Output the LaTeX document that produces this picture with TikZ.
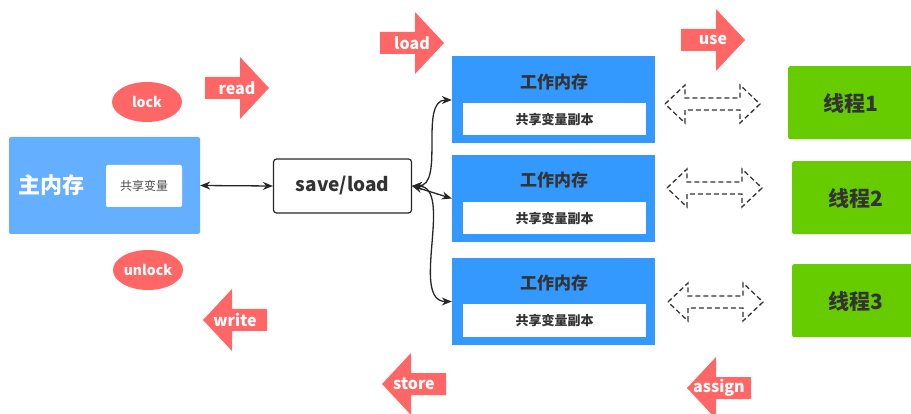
\documentclass[tikz,border=0pt]{standalone}
\usepackage{fontspec}
\setmainfont{Noto Sans CJK SC}
\usetikzlibrary{arrows.meta,shapes.geometric}
\definecolor{redA}{HTML}{FF6666}
\definecolor{mainblue}{HTML}{64AFFF}
\definecolor{wmblue}{HTML}{3399FF}
\definecolor{thgreen}{HTML}{66CC00}
\definecolor{txt}{HTML}{333333}
\newcommand{\fs}[1]{\fontsize{#1}{#1}\selectfont}
% right-pointing red arrow: left x, centre y
\newcommand{\redR}[4]{%
  \fill[redA] (#2,#3-11) -- (#2+35,#3-11) -- (#2+35,#3-31) -- (#2+64,#3) -- (#2+35,#3+31) -- (#2+35,#3+11) -- (#2,#3+11) -- cycle;
  \node[optext] (#1) at (#2+32,#3) {#4};}
% left-pointing red arrow: tip x, centre y
\newcommand{\redL}[4]{%
  \fill[redA] (#2+64,#3-11) -- (#2+29,#3-11) -- (#2+29,#3-31) -- (#2,#3) -- (#2+29,#3+31) -- (#2+29,#3+11) -- (#2+64,#3+11) -- cycle;
  \node[optext] (#1) at (#2+32,#3) {#4};}
% dashed hollow double arrow: left x, centre y
\newcommand{\dashdbl}[3]{%
  \draw[dashline] (#2,#3) -- (#2+20,#3-19) -- (#2+20,#3-6) -- (#2+75,#3-6) -- (#2+75,#3-19) -- (#2+95,#3) -- (#2+75,#3+19) -- (#2+75,#3+6) -- (#2+20,#3+6) -- (#2+20,#3+19) -- cycle;
  \coordinate (#1) at (#2+47,#3);}
\begin{document}
\begin{tikzpicture}[x=1pt,y=-1pt,
  optext/.style={text=white,font=\bfseries\fs{16}},
  oval/.style={ellipse,fill=redA,text=white,font=\bfseries\fs{14},minimum width=70pt,minimum height=40pt,inner sep=0},
  wmbox/.style={fill=wmblue,minimum width=203pt,minimum height=87pt,inner sep=0},
  wmtitle/.style={text=txt,font=\bfseries\fs{17}},
  copybox/.style={fill=white,minimum width=183pt,minimum height=32pt,inner sep=0,text=txt,font=\bfseries\fs{13}},
  thbox/.style={fill=thgreen,rounded corners=2pt,anchor=north west,minimum width=140pt,minimum height=73pt,inner sep=0},
  thtext/.style={text=txt,font=\bfseries\fs{21}},
  link/.style={draw=black!85,line width=1.3pt,{Stealth[length=10pt,width=8pt]}-{Stealth[length=10pt,width=8pt]}},
  dashline/.style={draw=black!80,line width=1.3pt,dash pattern=on 5pt off 3pt}
]
\useasboundingbox (0,0) rectangle (911,414);
% main memory
\node[fill=mainblue,rounded corners=2pt,minimum width=191pt,minimum height=97pt,inner sep=0] (main) at (104.5,185.5) {};
\node[text=white,font=\bfseries\fs{22}] (maint) at (52,185) {主内存};
\node[fill=white,rounded corners=2pt,minimum width=76pt,minimum height=42pt,inner sep=0,text=black!70,font=\fs{12}] (shared) at (144,186) {共享变量};
% lock / unlock
\node[oval] (lock) at (147,102) {lock};
\node[oval] (unlock) at (148,270) {unlock};
% save/load
\node[draw=black!85,line width=1.2pt,rounded corners=3pt,fill=white,minimum width=138pt,minimum height=54pt,inner sep=0,text=txt,font=\bfseries\fs{19}] (sl) at (342.5,186) {save/load};
% working memories
\node[wmbox] (w1) at (553.5,100) {};
\node[wmtitle] (w1t) at (554,82) {工作内存};
\node[copybox] (c1) at (554.5,119) {共享变量副本};
\node[wmbox] (w2) at (553.5,198.5) {};
\node[wmtitle] (w2t) at (554,180) {工作内存};
\node[copybox] (c2) at (554.5,218.5) {共享变量副本};
\node[wmbox] (w3) at (553.5,301.5) {};
\node[wmtitle] (w3t) at (554,283) {工作内存};
\node[copybox] (c3) at (554.5,320.5) {共享变量副本};
% threads
\node[thbox] (t1) at (788,66) {};
\node[thtext] (t1t) at (851,103) {线程1};
\node[thbox] (t2) at (792,161) {};
\node[thtext] (t2t) at (856,198) {线程2};
\node[thbox] (t3) at (792,264) {};
\node[thtext] (t3t) at (856,301) {线程3};
% connectors
\draw[link] (main.east) -- (sl.west);
\draw[link] (sl.east) to[out=0,in=180,looseness=0.9] (w1.west);
\draw[link] (sl.east) -- (w2.west);
\draw[link] (sl.east) to[out=0,in=180,looseness=0.9] (w3.west);
% dashed double arrows
\dashdbl{d1}{665}{104}
\dashdbl{d2}{667}{188}
\dashdbl{d3}{668}{302}
% red operation arrows
\redR{read}{205}{88}{read}
\redR{load}{380}{43}{load}
\redR{use}{681}{40}{use}
\redL{write}{203}{320}{write}
\redL{store}{382}{384}{store}
\redL{assign}{687}{388}{assign}
\end{tikzpicture}
\end{document}
